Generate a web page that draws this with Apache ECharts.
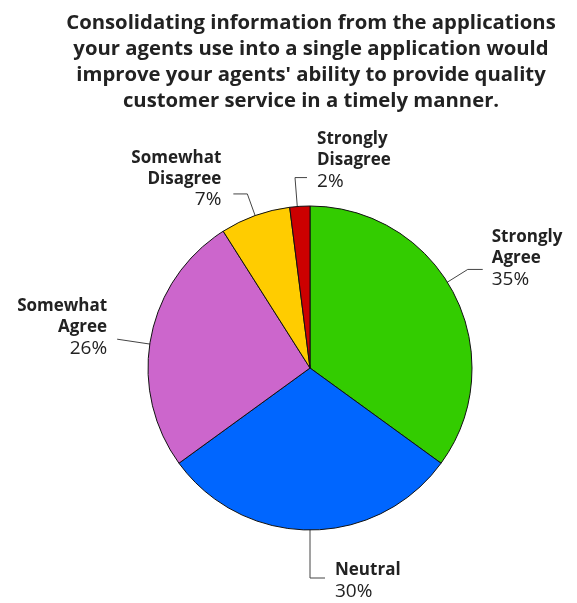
<!DOCTYPE html>
<html>
<head>
<meta charset="utf-8">
<script src="https://cdn.jsdelivr.net/npm/echarts@6/dist/echarts.min.js"></script>
<style>
  html, body { margin: 0; padding: 0; background: #fff; }
  #chart { width: 577px; height: 603px; }
</style>
</head>
<body>
<div id="chart"></div>
<script>
// Survey responses, in percent
const categories = ['Strongly Agree', 'Neutral', 'Somewhat Agree', 'Somewhat Disagree', 'Strongly Disagree'];
const nameLines = [['Strongly', 'Agree'], ['Neutral'], ['Somewhat', 'Agree'], ['Somewhat', 'Disagree'], ['Strongly', 'Disagree']];
const values = [35, 30, 26, 7, 2];
const colors = ['#33cc00', '#0066ff', '#cc66cc', '#ffcc00', '#cc0000'];

const titleText = "Consolidating information from the applications\nyour agents use into a single application would\nimprove your agents' ability to provide quality\ncustomer service in a timely manner.";

const FONT = '"Open Sans"';
const CX = 310, CY = 368, R = 162;

// leader lines: angle nudge (deg), radial length beyond the rim, horizontal tail, side (+1 right / -1 left)
const leaderNudge = [-5, 0, -2.3, 0, -0.9];
const leaderLen = [24, 48, 33, 23, 29];
const leaderTail = [15, 15, 0, 14, 12];
const leaderSide = [1, 1, -1, -1, 1];
const leaderInset = 12;
const labelGap = [9, 10, 10, 12, 10];
// vertical shift of each label block relative to its leader end
const labelShift = [-11, 3, -12, -15, -17];

const total = values.reduce((a, b) => a + b, 0);
function midAngle(i) {
  let before = 0;
  for (let k = 0; k < i; k++) before += values[k];
  return (before + values[i] / 2) / total * 360; // clockwise from 12 o'clock
}

const chart = echarts.init(document.getElementById('chart'), null, { renderer: 'canvas' });

const data = categories.map((c, i) => ({
  name: c,
  value: values[i],
  itemStyle: { color: colors[i] },
  label: { align: leaderSide[i] > 0 ? 'left' : 'right' }
}));

chart.setOption({
  animation: false,
  title: {
    text: titleText,
    left: 306,
    textAlign: 'center',
    top: 5,
    textStyle: {
      fontFamily: FONT,
      fontWeight: 'bold',
      fontSize: 20.3,
      lineHeight: 26,
      color: '#222'
    }
  },
  series: [{
    type: 'pie',
    center: [CX, CY],
    radius: R,
    startAngle: 90,
    clockwise: true,
    avoidLabelOverlap: false,
    data: data,
    itemStyle: { borderColor: '#111', borderWidth: 1 },
    label: {
      show: true,
      position: 'outside',
      formatter: function (p) {
        const lines = nameLines[p.dataIndex].map(s => '{b|' + s + '}');
        return lines.join('\n') + '\n{p|' + p.value + '%}';
      },
      rich: {
        b: { fontFamily: FONT, fontWeight: 'bold', fontSize: 17, lineHeight: 21, color: '#222' },
        p: { fontFamily: FONT, fontSize: 19, lineHeight: 21, color: '#222' }
      }
    },
    labelLine: {
      show: true,
      lineStyle: { color: '#444', width: 1 }
    },
    labelLayout: function (p) {
      const i = p.dataIndex;
      const a = (midAngle(i) + leaderNudge[i]) * Math.PI / 180;
      const ux = Math.sin(a), uy = -Math.cos(a);
      const r0 = R - leaderInset, r1 = R + leaderLen[i];
      const start = [CX + ux * r0, CY + uy * r0];
      const bend = [CX + ux * r1, CY + uy * r1];
      const end = [bend[0] + leaderSide[i] * leaderTail[i], bend[1]];
      return {
        labelLinePoints: [start, bend, end],
        x: end[0] + leaderSide[i] * labelGap[i],
        y: end[1] + labelShift[i],
        align: leaderSide[i] > 0 ? 'left' : 'right',
        verticalAlign: 'middle'
      };
    }
  }]
});
</script>
</body>
</html>
